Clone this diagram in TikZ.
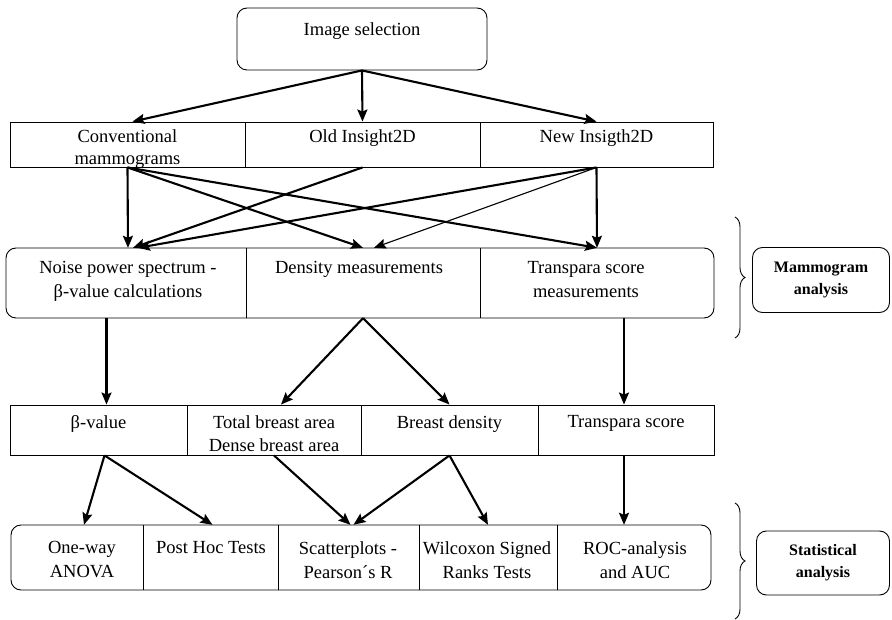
\documentclass[tikz,border=0pt]{standalone}
\usepackage{fontspec}
\setmainfont{Liberation Serif}
\usetikzlibrary{arrows.meta,decorations.pathreplacing}
\begin{document}
\begin{tikzpicture}[x=1pt,y=-1pt,
  txt/.style={anchor=north, align=center, inner sep=0pt, font=\fontsize{18.5}{24}\selectfont},
  lbl/.style={align=center, inner sep=0pt, font=\fontsize{16}{22}\selectfont\bfseries},
  cell/.style={draw, line width=0.9pt, inner sep=0pt, minimum height=#1},
  cellfree/.style={inner sep=0pt, minimum height=#1},
  boxr/.style={draw, rounded corners=10pt, line width=0.9pt, inner sep=0pt},
  arr/.style={-{Stealth[length=12pt,width=10pt,inset=2pt]}, line width=2.1pt},
  arrt/.style={arr, line width=1.1pt},
  bracestyle/.style={decorate, decoration={brace, amplitude=10pt}, line width=0.9pt}
]
\useasboundingbox (0,0) rectangle (892,620);

% Image selection
\node[boxr, minimum width=250, minimum height=62] (sel) at (362,39) {};
\node[txt] (seltxt) at (362,22) {Image selection};

% Row 2
\node[cell=45, minimum width=235] (conv) at (127.5,144.5) {};
\node[cell=45, minimum width=235] (old) at (362.5,144.5) {};
\node[cell=45, minimum width=233] (new) at (596.5,144.5) {};
\node[txt, font=\fontsize{18.5}{22}\selectfont] (convt) at (127.5,129) {Conventional\\mammograms};
\node[txt] (oldt) at (362.5,129) {Old Insight2D};
\node[txt] (newt) at (596.5,129) {New Insigth2D};

\draw[arr] (sel.south) -- ([xshift=5]conv.north);
\draw[arr] (sel.south) -- (old.north);
\draw[arr] (sel.south) -- (new.north);

% Row 3
\node[boxr, minimum width=708, minimum height=70] (r3) at (360,283) {};
\node[cellfree=70, minimum width=240] (nps) at (126,283) {};
\node[cellfree=70, minimum width=234] (dens) at (363,283) {};
\node[cellfree=70, minimum width=234] (trans) at (597,283) {};
\draw[line width=0.9pt] (nps.north east) -- (nps.south east);
\draw[line width=0.9pt] (dens.north east) -- (dens.south east);
\node[txt] (npst) at (128,261) {Noise power spectrum -\\β-value calculations};
\node[txt] (denst) at (359,261) {Density measurements};
\node[txt] (transt) at (586,261) {Transpara score\\measurements};

\draw[arr] (conv.south) -- ([xshift=2]nps.north);
\draw[arr] (conv.south) -- (dens.north);
\draw[arr] (conv.south) -- (trans.north);
\draw[arr] (old.south) -- ([xshift=7]nps.north);
\draw[arr] (new.south) -- ([xshift=12]nps.north);
\draw[arrt] (new.south) -- ([xshift=11]dens.north);
\draw[arr] (new.south) -- (trans.north);

% Brace + Mammogram analysis
\coordinate (b1t) at (735,217);
\coordinate (b1b) at (735,338);
\draw[bracestyle] (b1t) -- (b1b);
\node[boxr, minimum width=137, minimum height=65] (mam) at (821,280) {};
\node[lbl] (mamt) at (mam.center) {Mammogram\\analysis};

% Row 4
\node[cell=50, minimum width=177] (bv) at (98.5,430) {};
\node[cell=50, minimum width=174] (tot) at (274,430) {};
\node[cell=50, minimum width=177] (bd) at (449.5,430) {};
\node[cell=50, minimum width=176] (ts) at (626,430) {};
\node[txt] (bvt) at (98.5,415) {β-value};
\node[txt, font=\fontsize{18.5}{23}\selectfont] (tott) at (274,415) {Total breast area\\Dense breast area};
\node[txt] (bdt) at (449.5,415) {Breast density};
\node[txt] (tst) at (626,415) {Transpara score};

\coordinate (bvtop) at ([xshift=8]bv.north);
\coordinate (tstop) at ([xshift=-2]ts.north);
\draw[arr] (bvtop |- nps.south) -- (bvtop);
\draw[arr] (dens.south) -- ([xshift=7]tot.north);
\draw[arr] (dens.south) -- (bd.north);
\draw[arr] (tstop |- trans.south) -- (tstop);

% Row 5
\node[boxr, minimum width=700, minimum height=65] (r5) at (361,557.5) {};
\node[cellfree=65, minimum width=132] (ow) at (77,557.5) {};
\node[cellfree=65, minimum width=135] (ph) at (210.5,557.5) {};
\node[cellfree=65, minimum width=141] (sc) at (348.5,557.5) {};
\node[cellfree=65, minimum width=138] (wx) at (488,557.5) {};
\node[cellfree=65, minimum width=154] (roc) at (634,557.5) {};
\draw[line width=0.9pt] (ow.north east) -- (ow.south east);
\draw[line width=0.9pt] (ph.north east) -- (ph.south east);
\draw[line width=0.9pt] (sc.north east) -- (sc.south east);
\draw[line width=0.9pt] (wx.north east) -- (wx.south east);
\node[txt] (owt) at (82,541) {One-way\\ANOVA};
\node[txt] (pht) at (211,541) {Post Hoc Tests};
\node[txt] (sct) at (348,541) {Scatterplots -\\Pearson´s R};
\node[txt] (wxt) at (487,541) {Wilcoxon Signed\\Ranks Tests};
\node[txt] (roct) at (635,541) {ROC-analysis\\and AUC};

\coordinate (bvbot) at ([xshift=6]bv.south);
\coordinate (tsbot) at ([xshift=-2]ts.south);
\draw[arr] (bvbot) -- ([xshift=7]ow.north);
\draw[arr] (bvbot) -- ([xshift=2]ph.north);
\draw[arr] (tot.south) -- ([xshift=2]sc.north);
\draw[arr] (bd.south) -- ([xshift=5]sc.north);
\draw[arr] (bd.south) -- (wx.north);
\draw[arr] (tsbot) -- (tsbot |- roc.north);

% Brace + Statistical analysis
\coordinate (b2t) at (735,503);
\coordinate (b2b) at (735,619);
\draw[bracestyle] (b2t) -- (b2b);
\node[boxr, minimum width=133, minimum height=64] (stat) at (823,563) {};
\node[lbl] (statt) at (stat.center) {Statistical\\analysis};
\end{tikzpicture}
\end{document}
